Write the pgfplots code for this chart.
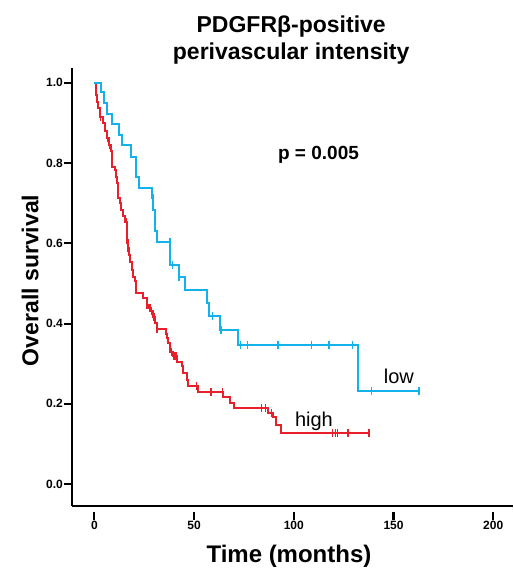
\documentclass[border=0pt]{standalone}
\usepackage{fontspec}
\setmainfont{Liberation Sans}
\usepackage{pgfplots}
\pgfplotsset{compat=1.18}
\definecolor{lowblue}{RGB}{20,178,235}
\definecolor{highred}{RGB}{232,32,44}

\begin{document}
\begin{tikzpicture}
% page = reference frame, axis box sits at (0,0)-(441pt,438pt)
\useasboundingbox (-72pt,-65pt) rectangle (442pt,506pt);
\begin{axis}[
  at={(0,0)}, anchor=south west,
  scale only axis,
  width=441pt, height=438pt,
  xmin=-11.2, xmax=209.9,
  ymin=-0.055, ymax=1.037,
  axis lines*=left,
  axis line style={line width=1.3pt},
  axis x line shift=6pt,
  x axis line style={draw=none},
  xtick={0,50,100,150,200},
  ytick={0,0.2,0.4,0.6,0.8,1.0},
  tick align=outside,
  major tick length=8pt,
  tick style={black, line width=2pt},
  /pgf/number format/assume math mode=true,
  xticklabel style={font=\bfseries\fontsize{12}{12}\selectfont, inner sep=1pt},
  yticklabel style={font=\bfseries\fontsize{12}{12}\selectfont, inner sep=1pt,
    /pgf/number format/.cd, fixed, fixed zerofill, precision=1},
  xlabel={Time (months)},
  xlabel style={font=\bfseries\fontsize{24}{24}\selectfont,
    at={(axis description cs:0.492,-0.114)}, anchor=center},
  ylabel={Overall survival},
  ylabel style={font=\bfseries\fontsize{23}{23}\selectfont,
    at={(axis description cs:-0.095,0.515)}, anchor=center},
  clip=false,
]
% x axis line stays at the box bottom
\draw[black, line width=1.3pt] (rel axis cs:0,0) -- (rel axis cs:1,0);
% high group: Kaplan-Meier steps
\addplot[highred, line width=2pt, const plot, mark=none] coordinates {
  (0,1.000)(0.8,0.970)(1.5,0.953)(2.0,0.937)(2.8,0.916)(4.5,0.899)(5.3,0.879)
  (6.2,0.862)(7.2,0.846)(8.3,0.829)(8.9,0.812)(9.1,0.791)(10.2,0.783)(10.8,0.766)
  (11.2,0.750)(11.7,0.733)(12.1,0.712)(12.9,0.700)(13.3,0.683)(14.6,0.667)
  (15.6,0.654)(16.2,0.633)(16.4,0.607)(16.8,0.588)(17.4,0.571)(18.0,0.554)
  (18.8,0.534)(19.6,0.517)(20.3,0.505)(20.9,0.476)(24.6,0.463)(26.3,0.446)
  (27.2,0.438)(28.6,0.430)(29.4,0.417)(30.4,0.401)(31.2,0.386)(35.9,0.374)
  (36.3,0.363)(37.1,0.351)(37.8,0.330)(39.2,0.320)(41.5,0.305)(43.8,0.293)
  (44.6,0.276)(46.3,0.259)(47.1,0.243)(52.0,0.230)(64.6,0.218)(68.2,0.203)
  (70.2,0.189)(87.2,0.176)(89.5,0.166)(91.2,0.147)(93.6,0.126)(138,0.126)
};
% high group: censored
\addplot[highred, only marks, mark=|, mark size=4pt, mark options={line width=1.5pt}] coordinates {
  (3.1,0.916)(6.5,0.862)(7.6,0.846)(16.0,0.654)(16.5,0.607)(16.9,0.588)
  (26.4,0.446)(27.9,0.438)(28.7,0.430)(29.8,0.417)(31.4,0.386)(38.8,0.330)
  (39.6,0.320)(40.4,0.320)(41.2,0.320)(51.3,0.243)(58.3,0.230)(58.8,0.230)
  (64.2,0.230)(83.9,0.189)(85.9,0.189)(88.9,0.176)(119.3,0.126)(121.0,0.126)
  (121.8,0.126)(127.3,0.126)(137.7,0.126)
};
% low group: Kaplan-Meier steps
\addplot[lowblue, line width=2pt, const plot, mark=none] coordinates {
  (0,1.000)(3.3,0.976)(4.9,0.949)(6.5,0.923)(8.7,0.898)(12.5,0.870)(14.0,0.844)
  (18.2,0.816)(20.7,0.766)(22.4,0.737)(29.1,0.712)(29.6,0.683)(30.4,0.630)
  (31.3,0.603)(37.9,0.546)(42.6,0.515)(45.6,0.484)(56.3,0.451)(57.3,0.418)
  (63.2,0.384)(71.9,0.347)(132.0,0.232)(163.0,0.232)
};
% low group: censored
\addplot[lowblue, only marks, mark=|, mark size=4pt, mark options={line width=1.5pt}] coordinates {
  (29.3,0.712)(37.9,0.603)(39.1,0.546)(42.4,0.515)(59.3,0.418)(63.6,0.384)
  (73.4,0.347)(76.7,0.347)(92.2,0.347)(109.0,0.347)(117.6,0.347)(129.5,0.347)
  (139.0,0.232)(162.8,0.232)
};
\node[font=\bfseries\fontsize{19}{19}\selectfont] at (axis cs:112.4,0.82) {p = 0.005};
\node[font=\fontsize{20}{20}\selectfont] at (axis cs:152.7,0.269) {low};
\node[font=\fontsize{20}{20}\selectfont] at (axis cs:110.1,0.157) {high};
\node[font=\bfseries\fontsize{23}{27}\selectfont, align=center]
  at (axis description cs:0.497,1.064) {PDGFRβ-positive\\perivascular intensity};
\end{axis}
% x tick marks below the axis line: month m sits at (m+11.2)/221.1*441pt
\draw[black, line width=2.2pt]
  (22.34pt,-6pt) -- (22.34pt,-14pt)
  (122.07pt,-6pt) -- (122.07pt,-14pt)
  (221.80pt,-6pt) -- (221.80pt,-14pt)
  (321.52pt,-6pt) -- (321.52pt,-14pt)
  (421.25pt,-6pt) -- (421.25pt,-14pt);
\end{tikzpicture}
\end{document}
